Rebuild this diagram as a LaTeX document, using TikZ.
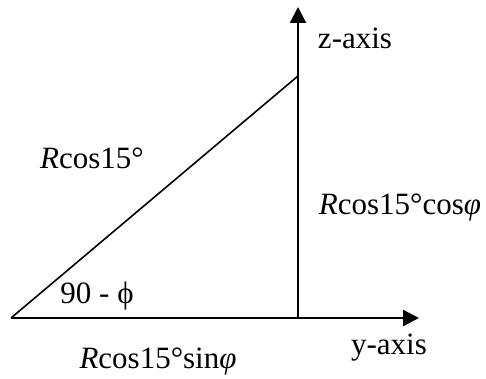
\documentclass[tikz,border=0pt]{standalone}
\usepackage{fontspec}
\setmainfont{Liberation Serif}
\usetikzlibrary{arrows.meta, positioning}
\tikzset{
  every picture/.style={line width=1pt},
  axis/.style={-{Triangle[length=8pt, width=8pt]}, line width=1.1pt},
  side/.style={line width=0.8pt},
  lbl/.style={font=\fontsize{15.5}{18}\selectfont, inner sep=0pt},
}
\begin{document}
\begin{tikzpicture}[x=0.5pt, y=0.5pt]
  \useasboundingbox (0,0) rectangle (486,379);
  % corners
  \coordinate (O) at (11,61);
  \coordinate (C) at (298,61);
  \coordinate (P) at (298,303);
  \coordinate (ytip) at (419,61);
  \coordinate (ztip) at (298,372);
  % axes
  \draw[axis] (O) -- (ytip);
  \draw[axis] (C) -- (ztip);
  \draw[side] (O) -- (P);
  % labels
  \node[lbl] (zlab) at (355,341) {z-axis};
  \node[lbl] (ylab) at (389,31) {y-axis};
  \node[lbl] (hyp) at (92,221) {\textit{R}cos15°};
  \node[lbl] (opp) at (400,172) {\textit{R}cos15°cos\textit{φ}};
  \node[lbl] (adj) at (158,18) {\textit{R}cos15°sin\textit{φ}};
  \node[lbl] (ang) at (97,83) {90 - ϕ};
\end{tikzpicture}
\end{document}
